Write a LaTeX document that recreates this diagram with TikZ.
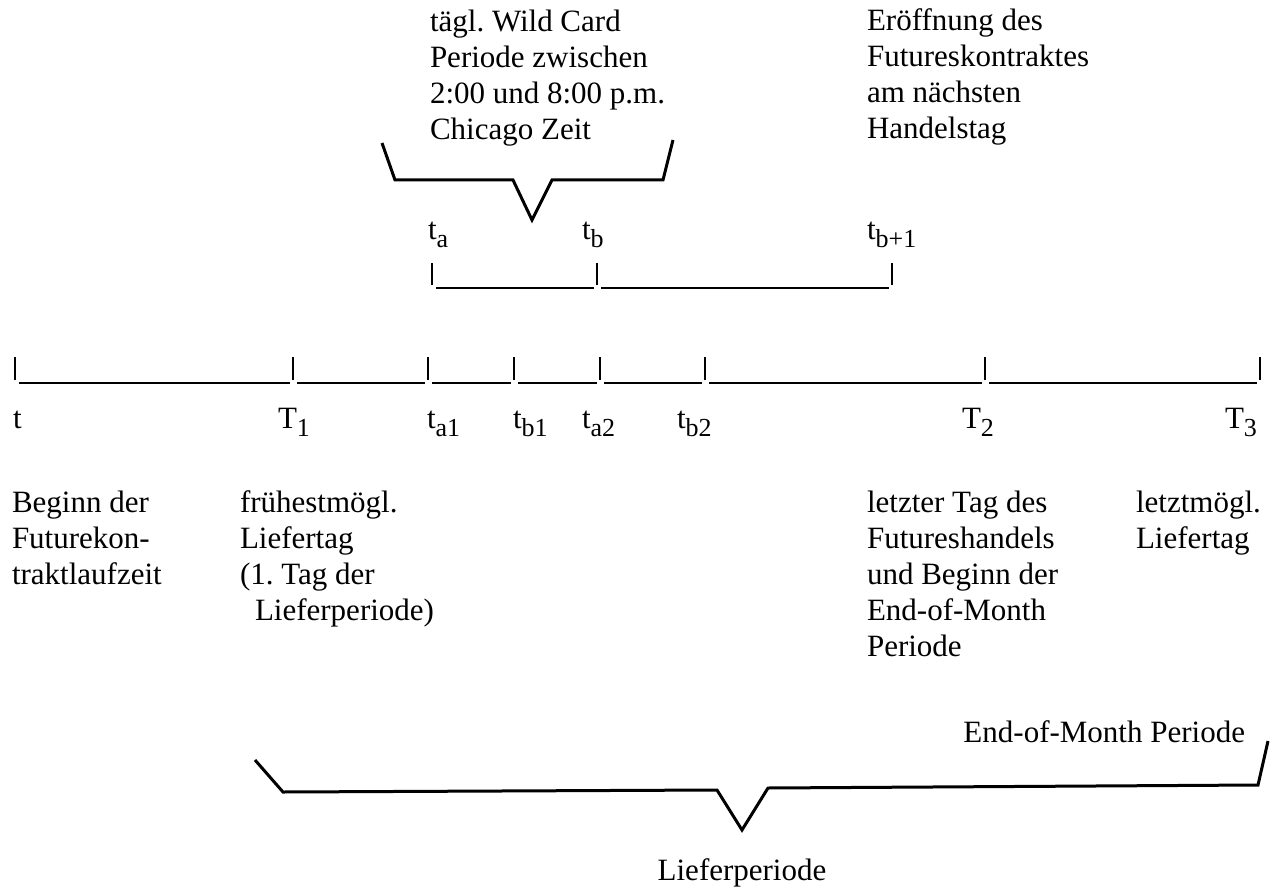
\documentclass[tikz,border=0pt]{standalone}
\usepackage{fontspec}
\setmainfont{Liberation Serif}
\frenchspacing
\newcommand\sbs[1]{\raisebox{-4pt}{\fontsize{13}{13}\selectfont #1}}
\begin{document}
\frenchspacing
\begin{tikzpicture}[x=0.5pt,y=-0.5pt,
  txt/.style={inner sep=0pt, outer sep=0pt, font=\fontsize{15.5}{18}\selectfont\frenchspacing, align=left, anchor=base west},
  tickln/.style={line width=1.1pt},
  ruleln/.style={line width=0.7pt},
  bracketln/.style={line width=1.5pt, line join=miter}]
\useasboundingbox (0,0) rectangle (1273,893);

% main timeline
\foreach \n/\x in {m1/15,m2/293,m3/428,m4/514,m5/600,m6/705,m7/985,m8/1260}{
  \coordinate (\n) at (\x,383);
  \draw[tickln] (\n) ++(0,-3) -- ++(0,-23);
}
\foreach \a/\b in {m1/m2,m2/m3,m3/m4,m4/m5,m5/m6,m6/m7,m7/m8}{
  \draw[ruleln] ([xshift=2pt]\a) -- ([xshift=-1.5pt]\b);
}

% upper timeline
\foreach \n/\x in {u1/432,u2/597,u3/892}{
  \coordinate (\n) at (\x,288);
  \draw[tickln] (\n) ++(0,-3) -- ++(0,-22);
}
\foreach \a/\b in {u1/u2,u2/u3}{
  \draw[ruleln] ([xshift=2pt]\a) -- ([xshift=-1.5pt]\b);
}

% main labels
\node[txt] (lt)  at (13,428)  {t};
\node[txt] (lT1) at (278,428) {T\sbs{1}};
\node[txt] (la1) at (427,428) {t\sbs{a1}};
\node[txt] (lb1) at (513,428) {t\sbs{b1}};
\node[txt] (la2) at (582,428) {t\sbs{a2}};
\node[txt] (lb2) at (677,428) {t\sbs{b2}};
\node[txt] (lT2) at (962,428) {T\sbs{2}};
\node[txt] (lT3) at (1225,428) {T\sbs{3}};

% upper labels
\node[txt] (lta)  at (428,240) {t\sbs{a}};
\node[txt] (ltb)  at (582,240) {t\sbs{b}};
\node[txt] (ltb1) at (867,240) {t\sbs{b+1}};

% top texts (anchor = baseline of last line)
\node[txt] (wild) at (430,140) {tägl. Wild Card\\Periode zwischen\\2:00 und 8:00 p.m.\\Chicago Zeit};
\node[txt] (open) at (867,139) {Eröffnung des\\Futureskontraktes\\am nächsten\\Handelstag};

% small bracket
\draw[bracketln] (382,143) -- (395,180) -- (513,180) -- (532,220) -- (552,180) -- (663,180) -- (673,140);

% bottom texts (anchor = baseline of last line)
\node[txt] (beg)  at (12,584)  {Beginn der\\Futurekon-\\traktlaufzeit};
\node[txt] (fru)  at (240,620) {frühestmögl.\\Liefertag\\(1. Tag der\\\hspace*{7.5pt}Lieferperiode)};
\node[txt] (letz) at (867,656) {letzter Tag des\\Futureshandels\\und Beginn der\\End-of-Month\\Periode};
\node[txt] (lmg)  at (1136,548) {letztmögl.\\Liefertag};

% big bracket
\node[txt, anchor=base east] (eom) at (1245,742) {End-of-Month Periode};
\draw[bracketln] (255,760) -- (283,792) -- (717,790) -- (742,830) -- (768,788) -- (1258,785) -- (1268,741);
\node[txt, anchor=base] (lief) at (742,880) {Lieferperiode};
\end{tikzpicture}
\end{document}
